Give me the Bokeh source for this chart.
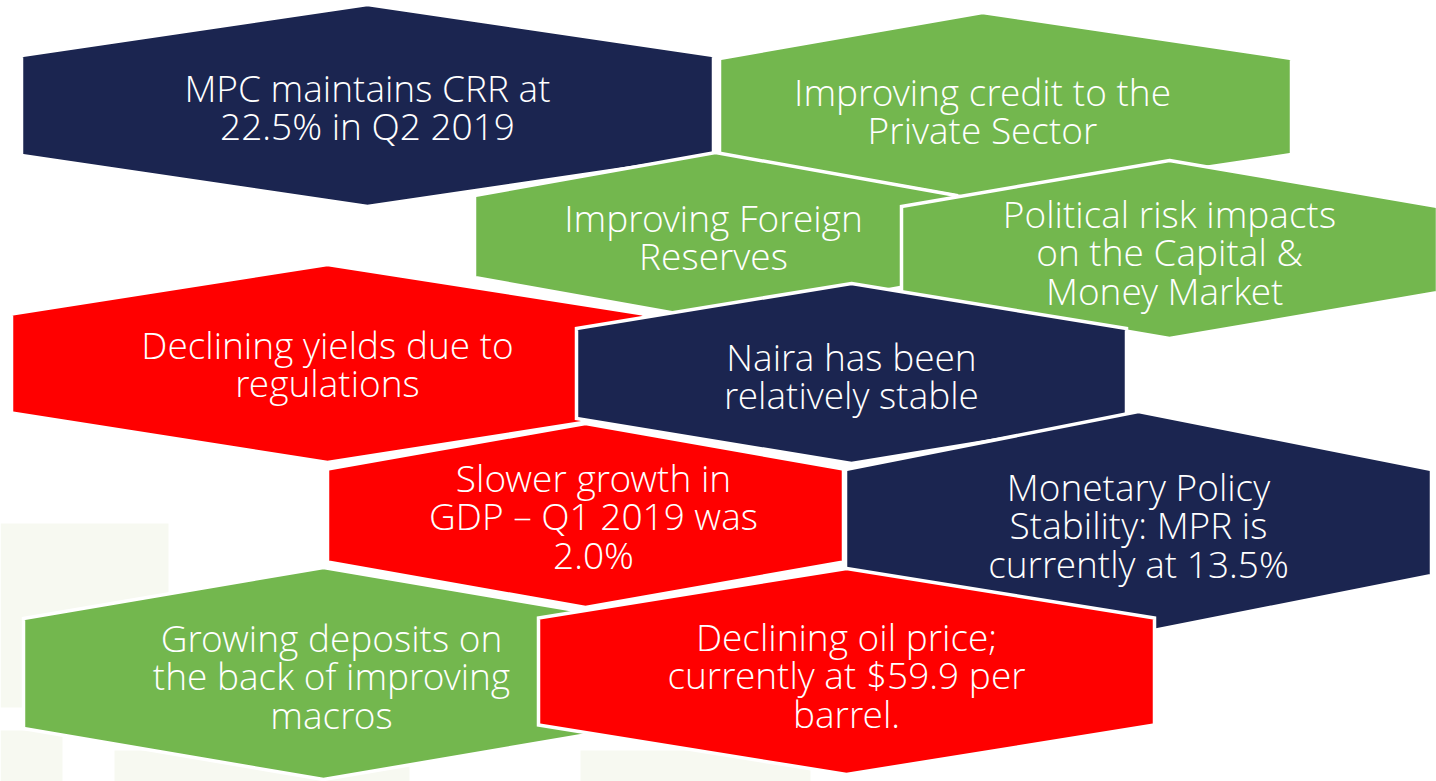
from bokeh.plotting import figure
from bokeh.models import ColumnDataSource, Range1d
from bokeh.core.properties import value
from bokeh.embed import file_html
from bokeh.resources import INLINE

# ---------------- content ----------------
labels = [
    "MPC maintains CRR at\n22.5% in Q2 2019",
    "Improving credit to the\nPrivate Sector",
    "Improving Foreign\nReserves",
    "Political risk impacts\non the Capital &\nMoney  Market",
    "Declining yields due to\nregulations",
    "Naira has been\nrelatively stable",
    "Slower growth in\nGDP \u2013 Q1 2019 was\n2.0%",
    "Monetary Policy\nStability: MPR is\ncurrently at 13.5%",
    "Growing deposits on\nthe back of improving\nmacros",
    "Declining oil price;\ncurrently at $59.9 per\nbarrel.",
]
tones = ["policy", "positive", "positive", "positive", "negative",
         "policy", "negative", "policy", "positive", "negative"]

# ---------------- layout (screen-pixel space of the slide) ----------------
hex_cx = [367, 1005, 715, 1169, 327, 851, 585, 1138, 323, 846]
hex_cy = [105, 106, 236, 249, 363, 373, 515, 522, 673, 671]
hex_w = [346, 286, 241, 268, 316, 275, 258, 293, 300, 308]
hex_h = [101, 94, 84, 89, 99, 90, 92, 111, 106, 103]
hex_s = [50, 48, 41, 43, 49.5, 45, 46.5, 53, 55, 53.5]
hex_apex_dx = [0, -23, 0, 0, 0, 0, 0, 0, 0, 0]
text_x = [367, 982, 713, 1169, 327, 851, 593, 1138, 331, 846]
text_y = [106, 110, 236, 251, 363, 375, 515, 524, 675, 674]

bg_left = [0, 0, 114, 580]
bg_right = [168, 62, 409, 810]
bg_top = [523, 730, 750, 750]
bg_bottom = [707, 790, 790, 790]

palette = {"policy": "#1B2550", "positive": "#73B74E", "negative": "#FF0000"}
LINE_GAP = 38.5
FONT = "Open Sans Light"
FONT_SIZE = "37px"

W, H = 1436, 781
p = figure(width=W, height=H, output_backend="svg", toolbar_location=None,
           x_range=Range1d(0, W), y_range=Range1d(H, 0),
           min_border=0)
p.axis.visible = False
p.grid.visible = False
p.outline_line_color = None
p.background_fill_color = "white"
p.border_fill_color = "white"

# faint background panels
p.quad(left=bg_left, right=bg_right, top=bg_top, bottom=bg_bottom,
       fill_color="#F7F9F1", line_color=None)

# hexagons
xs, ys, cols = [], [], []
for i in range(len(labels)):
    cx, cy, w, h, s, dx = hex_cx[i], hex_cy[i], hex_w[i], hex_h[i], hex_s[i], hex_apex_dx[i]
    xs.append([cx + dx, cx + w, cx + w, cx + dx, cx - w, cx - w])
    ys.append([cy - h, cy - s, cy + s, cy + h, cy + s, cy - s])
    cols.append(palette[tones[i]])

for i in range(len(labels)):
    p.patch(x=xs[i], y=ys[i], fill_color=cols[i], line_color="white",
            line_width=3.5, line_join="miter")

# texts
tx, ty, tt = [], [], []
for i, lab in enumerate(labels):
    lines = lab.split("\n")
    n = len(lines)
    for j, ln in enumerate(lines):
        tx.append(text_x[i])
        ty.append(text_y[i] + (j - (n - 1) / 2) * LINE_GAP)
        tt.append(ln)
src = ColumnDataSource(dict(x=tx, y=ty, text=tt))
p.text(x="x", y="y", text="text", source=src, text_align="center",
       text_baseline="middle", text_color="white",
       text_font=value(FONT), text_font_size=FONT_SIZE)

open("out.html", "w").write(file_html(p, INLINE))
